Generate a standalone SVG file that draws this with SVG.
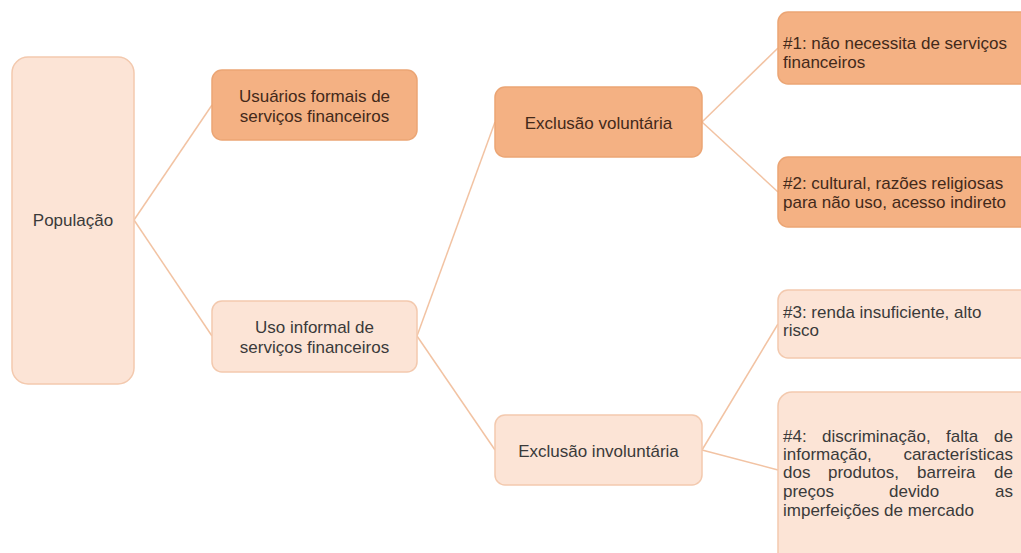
<svg xmlns="http://www.w3.org/2000/svg" width="1021" height="553" viewBox="0 0 1021 553">
<style>
.dark{fill:#F4B183;stroke:#EBA574;stroke-width:1.5}
.light{fill:#FCE4D6;stroke:#F3C9AE;stroke-width:1.5}
text{font-family:"Liberation Sans",Arial,sans-serif;font-size:17px}
.td{fill:#43291a}
.tl{fill:#3a3a3a}
.c{stroke:#F2C3A3;stroke-width:1.5;fill:none}
</style>
<rect width="1021" height="553" fill="#ffffff"/>
<g id="connectors">
<line class="c" x1="134" y1="220" x2="212" y2="105"/>
<line class="c" x1="134" y1="220" x2="212" y2="336"/>
<line class="c" x1="417" y1="336" x2="495" y2="122"/>
<line class="c" x1="417" y1="336" x2="495" y2="450"/>
<line class="c" x1="702" y1="122" x2="778" y2="48"/>
<line class="c" x1="702" y1="122" x2="778" y2="192"/>
<line class="c" x1="702" y1="450" x2="778" y2="324"/>
<line class="c" x1="702" y1="450" x2="778" y2="470"/>
</g>
<g id="populacao">
<rect class="light" x="12" y="57" width="122" height="327" rx="16"/>
<text class="tl" x="73" y="226" text-anchor="middle">População</text>
</g>
<g id="usuarios-formais">
<rect class="dark" x="212" y="70" width="205" height="70" rx="10"/>
<text class="td" x="314.5" y="102" text-anchor="middle">Usuários formais de</text>
<text class="td" x="314.5" y="122" text-anchor="middle">serviços financeiros</text>
</g>
<g id="uso-informal">
<rect class="light" x="212" y="301" width="205" height="71" rx="10"/>
<text class="tl" x="314.5" y="333" text-anchor="middle">Uso informal de</text>
<text class="tl" x="314.5" y="353" text-anchor="middle">serviços financeiros</text>
</g>
<g id="exclusao-voluntaria">
<rect class="dark" x="495" y="87" width="207" height="70" rx="10"/>
<text class="td" x="598.5" y="129" text-anchor="middle">Exclusão voluntária</text>
</g>
<g id="exclusao-involuntaria">
<rect class="light" x="495" y="415" width="207" height="70" rx="10"/>
<text class="tl" x="598.5" y="457" text-anchor="middle">Exclusão involuntária</text>
</g>
<g id="n1">
<rect class="dark" x="778" y="12" width="260" height="72" rx="10"/>
<text class="td" x="783" y="49">#1: não necessita de serviços</text>
<text class="td" x="783" y="68">financeiros</text>
</g>
<g id="n2">
<rect class="dark" x="778" y="157" width="260" height="70" rx="10"/>
<text class="td" x="783" y="189">#2: cultural, razões religiosas</text>
<text class="td" x="783" y="208">para não uso, acesso indireto</text>
</g>
<g id="n3">
<rect class="light" x="778" y="290" width="260" height="68" rx="10"/>
<text class="tl" x="783" y="318">#3: renda insuficiente, alto</text>
<text class="tl" x="783" y="336">risco</text>
</g>
<g id="n4">
<rect class="light" x="778" y="392" width="260" height="175" rx="14"/>
<text class="tl" y="442"><tspan x="783">#4:</tspan><tspan x="822">discriminação,</tspan><tspan x="946">falta</tspan></text>
<text class="tl" x="1013" y="442" text-anchor="end">de</text>
<text class="tl" x="783" y="460">informação,</text>
<text class="tl" x="1013" y="460" text-anchor="end">características</text>
<text class="tl" y="478"><tspan x="783">dos</tspan><tspan x="828">produtos,</tspan><tspan x="917">barreira</tspan></text>
<text class="tl" x="1013" y="478" text-anchor="end">de</text>
<text class="tl" y="497"><tspan x="783">preços</tspan><tspan x="889">devido</tspan></text>
<text class="tl" x="1013" y="497" text-anchor="end">as</text>
<text class="tl" x="783" y="516">imperfeições de mercado</text>
</g>
</svg>
